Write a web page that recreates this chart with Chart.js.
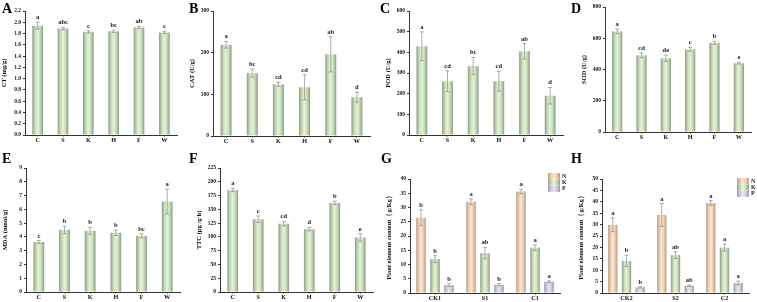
<!DOCTYPE html>
<html>
<head>
<meta charset="utf-8">
<script src="https://cdn.jsdelivr.net/npm/chart.js@4.4.0/dist/chart.umd.min.js"></script>
<style>
body { margin: 0; background: #fff; }
#wrap { position: relative; width: 757px; height: 302px; overflow: hidden; }
#wrap canvas { position: absolute; }
.tag { position: absolute; font: bold 14px "Liberation Serif", serif; color: #000; line-height: 1; }
</style>
</head>
<body>
<div id="wrap"></div>
<script>
const treatments = ["C", "S", "K", "H", "F", "W"];

const ctValues = [1.94, 1.89, 1.83, 1.84, 1.91, 1.82];
const ctErrors = [0.06, 0.02, 0.02, 0.02, 0.02, 0.02];
const ctLetters = ["a", "abc", "c", "bc", "ab", "c"];

const catValues = [219, 151, 124, 117, 196, 93];
const catErrors = [8, 10, 5, 30, 42, 12];
const catLetters = ["a", "bc", "cd", "cd", "ab", "d"];

const podValues = [429, 260, 333, 260, 405, 190];
const podErrors = [70, 50, 42, 48, 37, 40];
const podLetters = ["a", "cd", "bc", "cd", "ab", "d"];

const sodValues = [644, 491, 472, 529, 571, 440];
const sodErrors = [15, 15, 20, 12, 10, 5];
const sodLetters = ["a", "cd", "de", "c", "b", "e"];

const mdaValues = [3.63, 4.51, 4.44, 4.30, 4.08, 6.56];
const mdaErrors = [0.1, 0.27, 0.25, 0.2, 0.15, 0.9];
const mdaLetters = ["c", "b", "b", "b", "bc", "a"];

const ttcValues = [185, 132, 124, 114, 162, 99];
const ttcErrors = [3, 6, 4, 3, 3, 7];
const ttcLetters = ["a", "c", "cd", "d", "b", "e"];

const elements = ["N", "K", "P"];

const groupsG = ["CK1", "S1", "C1"];
const gN = [26.4, 32.0, 35.6];
const gNErr = [2.8, 1.0, 0.8];
const gNLetters = ["b", "a", "a"];
const gK = [11.9, 14.0, 15.9];
const gKErr = [1.2, 2.0, 1.0];
const gKLetters = ["b", "ab", "a"];
const gP = [2.8, 2.9, 4.0];
const gPErr = [0.5, 0.4, 0.3];
const gPLetters = ["b", "b", "a"];

const groupsH = ["CK2", "S2", "C2"];
const hN = [29.9, 34.2, 39.5];
const hNErr = [3.0, 5.0, 1.0];
const hNLetters = ["a", "a", "a"];
const hK = [14.1, 16.6, 19.9];
const hKErr = [2.5, 1.5, 1.5];
const hKLetters = ["b", "ab", "a"];
const hP = [2.5, 3.2, 4.4];
const hPErr = [0.3, 0.3, 0.8];
const hPLetters = ["b", "ab", "a"];

// bar shading: edge colour -> light centre -> edge colour
const shades = {
  green: ["#8e9a86", "#c9dfb8", "#e4f3d7"],
  peach: ["#b39c86", "#ecd0b4", "#fde6cf"],
  lilac: ["#9d98a8", "#d2cbe0", "#ebe5f4"],
};

const serif = '"Liberation Serif", "Times New Roman", serif';

function shadeFill(ctx, x0, x1, name) {
  const c = shades[name];
  const g = ctx.createLinearGradient(x0, 0, x1, 0);
  g.addColorStop(0, c[0]);
  g.addColorStop(0.28, c[1]);
  g.addColorStop(0.5, c[2]);
  g.addColorStop(0.72, c[1]);
  g.addColorStop(1, c[0]);
  return g;
}

const barShading = {
  id: "barShading",
  afterDatasetsUpdate(chart) {
    chart.data.datasets.forEach((ds, i) => {
      chart.getDatasetMeta(i).data.forEach((bar) => {
        const fill = shadeFill(chart.ctx, bar.x - bar.width / 2, bar.x + bar.width / 2, ds.shade);
        bar.options = Object.assign({}, bar.options, { backgroundColor: fill });
      });
    });
  },
};

const errorBars = {
  id: "errorBars",
  afterDatasetsDraw(chart) {
    const ctx = chart.ctx;
    const y = chart.scales.y;
    chart.data.datasets.forEach((ds, i) => {
      chart.getDatasetMeta(i).data.forEach((bar, j) => {
        const v = ds.data[j];
        const e = ds.errors[j];
        const hi = y.getPixelForValue(v + e);
        const lo = y.getPixelForValue(v - e);
        ctx.save();
        ctx.strokeStyle = "rgba(120,120,120,0.75)";
        ctx.lineWidth = 0.8;
        ctx.beginPath();
        ctx.moveTo(bar.x, lo);
        ctx.lineTo(bar.x, hi);
        ctx.moveTo(bar.x - 2, hi);
        ctx.lineTo(bar.x + 2, hi);
        ctx.moveTo(bar.x - 2, lo);
        ctx.lineTo(bar.x + 2, lo);
        ctx.stroke();
        ctx.fillStyle = "#222";
        ctx.font = "bold 6.5px " + serif;
        ctx.textAlign = "center";
        ctx.textBaseline = "bottom";
        ctx.fillText(ds.letters[j], bar.x, hi - 1.5);
        ctx.restore();
      });
    });
  },
};

const boxLegend = {
  id: "boxLegend",
  afterDraw(chart) {
    const opts = chart.options.plugins.boxLegend;
    if (!opts || !opts.show) return;
    const ctx = chart.ctx;
    const area = chart.chartArea;
    const x0 = area.right - 12;
    let yy = area.top + opts.dy;
    chart.data.datasets.forEach((ds) => {
      ctx.save();
      ctx.fillStyle = shadeFill(ctx, x0, x0 + 12, ds.shade);
      ctx.fillRect(x0, yy, 12, 6.3);
      ctx.fillStyle = "#222";
      ctx.font = "bold 6px " + serif;
      ctx.textBaseline = "middle";
      ctx.fillText(ds.label, x0 + 14, yy + 3.3);
      ctx.restore();
      yy += 6.3;
    });
  },
};

const panels = [
  { tag: "A", box: [25, 11, 177, 135], tagAt: [2, 2], title: "CT (mg/g)", max: 2.2, step: 0.2, dec: 1,
    labels: treatments, series: [{ label: "CT", data: ctValues, errors: ctErrors, letters: ctLetters, shade: "green" }] },
  { tag: "B", box: [213, 11, 370, 136], tagAt: [189, 2], title: "CAT (U/g)", max: 300, step: 100, dec: 0,
    labels: treatments, series: [{ label: "CAT", data: catValues, errors: catErrors, letters: catLetters, shade: "green" }] },
  { tag: "C", box: [409, 11, 563, 135], tagAt: [380, 2], title: "POD (U/g)", max: 600, step: 100, dec: 0,
    labels: treatments, series: [{ label: "POD", data: podValues, errors: podErrors, letters: podLetters, shade: "green" }] },
  { tag: "D", box: [605, 7, 751, 132], tagAt: [571, 2], title: "SOD (U/g)", max: 800, step: 200, dec: 0,
    labels: treatments, series: [{ label: "SOD", data: sodValues, errors: sodErrors, letters: sodLetters, shade: "green" }] },
  { tag: "E", box: [26, 168, 180, 292], tagAt: [2, 152], title: "MDA (nmol/g)", max: 9, step: 1, dec: 0,
    labels: treatments, series: [{ label: "MDA", data: mdaValues, errors: mdaErrors, letters: mdaLetters, shade: "green" }] },
  { tag: "F", box: [220, 168, 373, 292], tagAt: [189, 152], title: "TTC (μg /g·h)", max: 225, step: 25, dec: 0,
    labels: treatments, series: [{ label: "TTC", data: ttcValues, errors: ttcErrors, letters: ttcLetters, shade: "green" }] },
  { tag: "G", box: [410, 179, 560, 293], tagAt: [381, 152], title: "Plant element content（g/Kg）", max: 40, step: 5, dec: 0,
    labels: groupsG, legendDy: -6, group: true,
    series: [
      { label: elements[0], data: gN, errors: gNErr, letters: gNLetters, shade: "peach" },
      { label: elements[1], data: gK, errors: gKErr, letters: gKLetters, shade: "green" },
      { label: elements[2], data: gP, errors: gPErr, letters: gPLetters, shade: "lilac" },
    ] },
  { tag: "H", box: [602, 179, 749, 293], tagAt: [571, 152], title: "Plant element content（g/Kg）", max: 50, step: 5, dec: 0,
    labels: groupsH, legendDy: -1, group: true,
    series: [
      { label: elements[0], data: hN, errors: hNErr, letters: hNLetters, shade: "peach" },
      { label: elements[1], data: hK, errors: hKErr, letters: hKLetters, shade: "green" },
      { label: elements[2], data: hP, errors: hPErr, letters: hPLetters, shade: "lilac" },
    ] },
];

const wrap = document.getElementById("wrap");
const axisW = 25;
const axisH = 10;
const padTop = 10;

panels.forEach((p) => {
  const [l, t, r, b] = p.box;
  const padRight = p.group ? 8 : 4;
  const left = l - axisW;
  const top = t - padTop;
  const canvas = document.createElement("canvas");
  canvas.width = r + padRight - left;
  canvas.height = b + axisH - top;
  canvas.style.left = left + "px";
  canvas.style.top = top + "px";
  wrap.appendChild(canvas);

  const tag = document.createElement("div");
  tag.className = "tag";
  tag.textContent = p.tag;
  tag.style.left = p.tagAt[0] + "px";
  tag.style.top = p.tagAt[1] + "px";
  wrap.appendChild(tag);

  new Chart(canvas, {
    type: "bar",
    data: {
      labels: p.labels,
      datasets: p.series.map((s) => ({
        label: s.label,
        data: s.data,
        errors: s.errors,
        letters: s.letters,
        shade: s.shade,
        backgroundColor: "#cfe3bf",
        borderWidth: 0,
        barPercentage: p.group ? 0.68 : 0.42,
        categoryPercentage: p.group ? 0.84 : 1,
      })),
    },
    options: {
      responsive: false,
      animation: false,
      events: [],
      layout: { padding: { top: padTop, right: padRight, left: 0, bottom: 0 } },
      plugins: {
        legend: { display: false },
        tooltip: { enabled: false },
        boxLegend: { show: !!p.group, dy: p.legendDy || 0 },
      },
      scales: {
        x: {
          grid: { display: true, drawOnChartArea: false, offset: false, tickLength: 1.5, color: "#333" },
          border: { display: true, color: "#333", width: 1 },
          ticks: { color: "#111", font: { family: serif, size: 6.2, weight: "bold" }, padding: 0.5, maxRotation: 0 },
          afterFit: (s) => { s.height = axisH; },
        },
        y: {
          min: 0,
          max: p.max,
          grid: { display: true, drawOnChartArea: false, tickLength: 2, color: "#333" },
          border: { display: true, color: "#333", width: 1 },
          ticks: {
            stepSize: p.step,
            color: "#111",
            padding: 2,
            font: { family: serif, size: 5.5, weight: "bold" },
            callback: (v) => v.toFixed(p.dec),
          },
          title: { display: true, text: p.title, color: "#111", padding: { top: 0, bottom: 1 },
            font: { family: serif, size: 6.5, weight: "bold" } },
          afterFit: (s) => { s.width = axisW; },
        },
      },
    },
    plugins: [barShading, errorBars, boxLegend],
  });
});
</script>
</body>
</html>
